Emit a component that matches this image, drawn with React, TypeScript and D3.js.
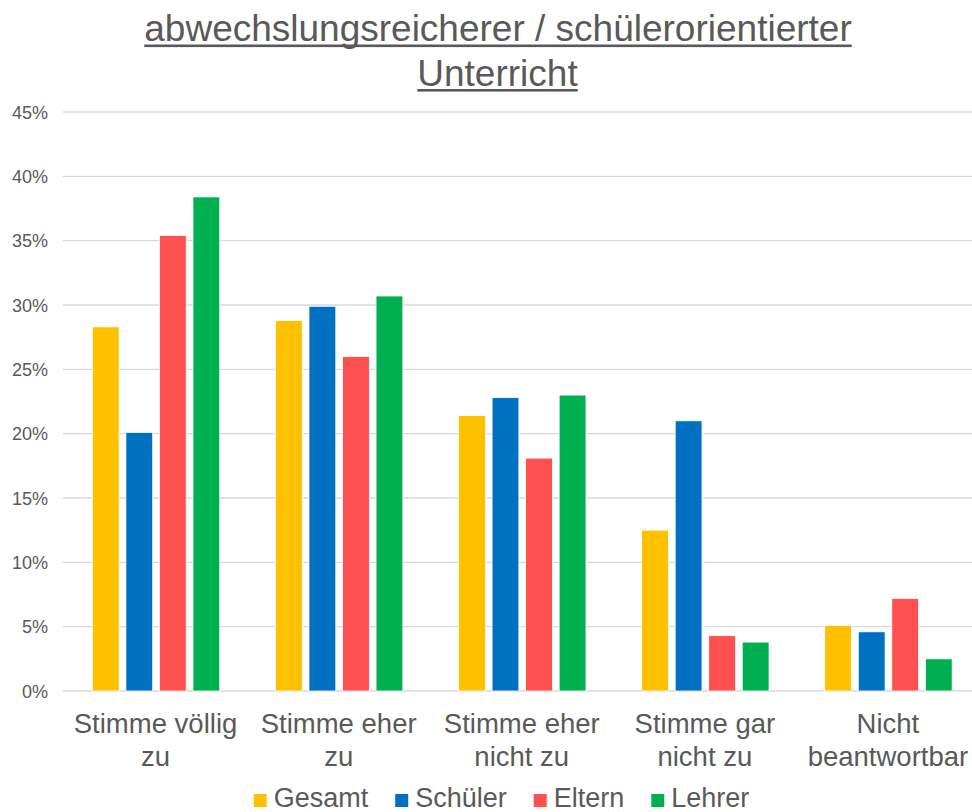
import React from "react";
import * as d3 from "d3";

const categories: string[][] = [
  ["Stimme völlig", "zu"],
  ["Stimme eher", "zu"],
  ["Stimme eher", "nicht zu"],
  ["Stimme gar", "nicht zu"],
  ["Nicht", "beantwortbar"],
];
const seriesNames = ["Gesamt", "Schüler", "Eltern", "Lehrer"];
const seriesColors = ["#FFC000", "#0070C0", "#FF5050", "#00B050"];
const gesamt = [0.283, 0.288, 0.214, 0.125, 0.051];
const schueler = [0.201, 0.299, 0.228, 0.21, 0.046];
const eltern = [0.354, 0.26, 0.181, 0.043, 0.072];
const lehrer = [0.384, 0.307, 0.23, 0.038, 0.025];
const seriesValues = [gesamt, schueler, eltern, lehrer];
const yTicks = [0, 0.05, 0.1, 0.15, 0.2, 0.25, 0.3, 0.35, 0.4, 0.45];
const titleLines = ["abwechslungsreicherer / schülerorientierter", "Unterricht"];

const W = 972;
const H = 812;
const FONT = "'Liberation Sans', Arial, Helvetica, sans-serif";
const TEXT = "#595959";

function measure(text: string, size: number): number {
  const c = document.createElement("canvas").getContext("2d");
  if (!c) return text.length * size * 0.55;
  c.font = `${size}px 'Liberation Sans', Arial, sans-serif`;
  return c.measureText(text).width;
}

export default function App() {
  const plotLeft = 64.5;
  const plotRight = 980;
  const x0 = d3
    .scaleBand<number>()
    .domain(categories.map((_, i) => i))
    .range([plotLeft, plotRight])
    .padding(0);
  const x1 = d3
    .scaleBand<number>()
    .domain(seriesNames.map((_, i) => i))
    .range([0, x0.bandwidth()])
    .paddingInner(0.2)
    .paddingOuter(0.83);
  const y = d3.scaleLinear().domain([0, 0.45]).range([691, 112]);
  const fmt = d3.format(".0%");

  const titleSize = 37;
  const titleCx = 498;
  const tw = titleLines.map((t) => measure(t, titleSize));

  // legend layout
  const legendFont = 27;
  const sq = 13;
  const sqGap = 7;
  const itemGap = 27;
  const widths = seriesNames.map((s) => measure(s, legendFont));
  const total =
    widths.reduce((a, b) => a + b, 0) + seriesNames.length * (sq + sqGap) + itemGap * (seriesNames.length - 1);
  let lx = 501.5 - total / 2;
  const legendItems = seriesNames.map((s, i) => {
    const item = { name: s, x: lx, color: seriesColors[i] };
    lx += sq + sqGap + widths[i] + itemGap;
    return item;
  });

  return (
    <svg
      width={W}
      height={H}
      style={{ position: "absolute", left: 0, top: 0, background: "#fff" }}
      fontFamily={FONT}
    >
      <rect x={0} y={0} width={W} height={H} fill="#fff" />
      {/* title */}
      <g fill={TEXT}>
        <text x={titleCx} y={41} fontSize={titleSize} textAnchor="middle">
          {titleLines[0]}
        </text>
        <rect x={titleCx - tw[0] / 2} y={44.5} width={tw[0]} height={2.6} />
        <text x={titleCx - 0.5} y={85.5} fontSize={titleSize} textAnchor="middle">
          {titleLines[1]}
        </text>
        <rect x={titleCx - 0.5 - tw[1] / 2} y={89} width={tw[1]} height={2.6} />
      </g>
      {/* grid */}
      <g>
        {yTicks.map((t) => (
          <line key={t} x1={63} x2={W} y1={y(t)} y2={y(t)} stroke="#D9D9D9" strokeWidth={1.4} />
        ))}
      </g>
      {/* y labels */}
      <g fill={TEXT} fontSize={18}>
        {yTicks.map((t) => (
          <text key={t} x={48} y={y(t) + 6.5} textAnchor="end">
            {fmt(t)}
          </text>
        ))}
      </g>
      {/* bars */}
      <g>
        {categories.map((_, ci) => (
          <g key={ci} transform={`translate(${x0(ci)},0)`}>
            {seriesValues.map((vals, si) => (
              <rect
                key={si}
                x={x1(si)}
                y={y(vals[ci])}
                width={x1.bandwidth()}
                height={y(0) - y(vals[ci])}
                fill={seriesColors[si]}
                stroke="#fff"
                strokeWidth={0.8}
              />
            ))}
          </g>
        ))}
      </g>
      {/* x labels */}
      <g fill={TEXT} fontSize={27.5} textAnchor="middle">
        {categories.map((lines, ci) => (
          <text key={ci} x={(x0(ci) as number) + x0.bandwidth() / 2 - 0.5} y={733}>
            {lines.map((l, li) => (
              <tspan key={li} x={(x0(ci) as number) + x0.bandwidth() / 2 - 0.5} dy={li === 0 ? 0 : 33}>
                {l}
              </tspan>
            ))}
          </text>
        ))}
      </g>
      {/* legend */}
      <g>
        {legendItems.map((it) => (
          <g key={it.name}>
            <rect x={it.x} y={794} width={sq} height={sq} fill={it.color} />
            <text x={it.x + sq + sqGap} y={807} fontSize={legendFont} fill={TEXT}>
              {it.name}
            </text>
          </g>
        ))}
      </g>
    </svg>
  );
}
